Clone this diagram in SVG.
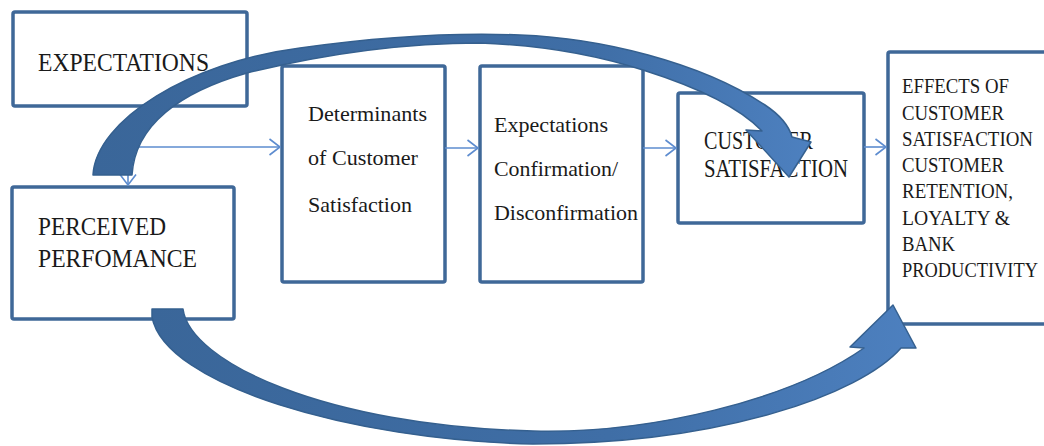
<svg xmlns="http://www.w3.org/2000/svg" width="1044" height="446" viewBox="0 0 1044 446">
  <style>
    .box { fill: #ffffff; stroke: #3f6898; stroke-width: 3.5; }
    .lbl { font-family: "Liberation Serif", "Times New Roman", serif; fill: #1a1a1a; }
    .caps { font-size: 25px; }
    .low { font-size: 22px; }
    .eff { font-size: 21px; }
    .conn { fill: none; stroke: #5d8ccf; stroke-width: 1.6; }
    .big { stroke: #35608f; stroke-width: 1.5; stroke-linejoin: round; }
  </style>
  <defs>
    <marker id="chev" viewBox="0 0 12 18" refX="11" refY="9" markerWidth="12" markerHeight="18" markerUnits="userSpaceOnUse" orient="auto">
      <path d="M0.5,1 L11,9 L0.5,17" fill="none" stroke="#5d8ccf" stroke-width="1.6"/>
    </marker>
    <linearGradient id="gTop" x1="90" y1="0" x2="810" y2="0" gradientUnits="userSpaceOnUse">
      <stop offset="0" stop-color="#3a6699"/>
      <stop offset="0.7" stop-color="#3f6ea6"/>
      <stop offset="1" stop-color="#4d80bf"/>
    </linearGradient>
    <linearGradient id="gBot" x1="150" y1="0" x2="915" y2="0" gradientUnits="userSpaceOnUse">
      <stop offset="0" stop-color="#3a6699"/>
      <stop offset="0.6" stop-color="#3f6ea6"/>
      <stop offset="1" stop-color="#4d80bf"/>
    </linearGradient>
  </defs>

  <!-- boxes -->
  <g id="expectations">
    <rect class="box" x="13" y="12" width="234" height="94" rx="2"/>
    <text class="lbl caps" x="38" y="71" textLength="171" lengthAdjust="spacingAndGlyphs">EXPECTATIONS</text>
  </g>
  <g id="perceived-performance">
    <rect class="box" x="12" y="187" width="222" height="132" rx="2"/>
    <text class="lbl caps" x="38" y="235" textLength="128" lengthAdjust="spacingAndGlyphs">PERCEIVED</text>
    <text class="lbl caps" x="38" y="267" textLength="159" lengthAdjust="spacingAndGlyphs">PERFOMANCE</text>
  </g>
  <g id="determinants">
    <rect class="box" x="282" y="66" width="163" height="216" rx="2"/>
    <text class="lbl low" x="308" y="121" textLength="119" lengthAdjust="spacingAndGlyphs">Determinants</text>
    <text class="lbl low" x="308" y="165" textLength="110" lengthAdjust="spacingAndGlyphs">of Customer</text>
    <text class="lbl low" x="308" y="212" textLength="104" lengthAdjust="spacingAndGlyphs">Satisfaction</text>
  </g>
  <g id="confirmation">
    <rect class="box" x="480" y="66" width="163" height="216" rx="2"/>
    <text class="lbl low" x="494" y="132" textLength="114" lengthAdjust="spacingAndGlyphs">Expectations</text>
    <text class="lbl low" x="494" y="176" textLength="124" lengthAdjust="spacingAndGlyphs">Confirmation/</text>
    <text class="lbl low" x="494" y="220" textLength="144" lengthAdjust="spacingAndGlyphs">Disconfirmation</text>
  </g>
  <g id="customer-satisfaction">
    <rect class="box" x="678" y="93" width="186" height="130" rx="2"/>
    <text class="lbl caps" x="704" y="149" textLength="109" lengthAdjust="spacingAndGlyphs">CUSTOMER</text>
    <text class="lbl caps" x="704" y="177" textLength="144" lengthAdjust="spacingAndGlyphs">SATISFACTION</text>
  </g>
  <g id="effects">
    <rect class="box" x="888" y="52" width="200" height="272" rx="2"/>
    <text class="lbl eff" x="902" y="93" textLength="107" lengthAdjust="spacingAndGlyphs">EFFECTS OF</text>
    <text class="lbl eff" x="902" y="120" textLength="102" lengthAdjust="spacingAndGlyphs">CUSTOMER</text>
    <text class="lbl eff" x="902" y="146" textLength="131" lengthAdjust="spacingAndGlyphs">SATISFACTION</text>
    <text class="lbl eff" x="902" y="172" textLength="102" lengthAdjust="spacingAndGlyphs">CUSTOMER</text>
    <text class="lbl eff" x="902" y="198" textLength="111" lengthAdjust="spacingAndGlyphs">RETENTION,</text>
    <text class="lbl eff" x="902" y="225" textLength="108" lengthAdjust="spacingAndGlyphs">LOYALTY &amp;</text>
    <text class="lbl eff" x="902" y="251" textLength="53" lengthAdjust="spacingAndGlyphs">BANK</text>
    <text class="lbl eff" x="902" y="277" textLength="136" lengthAdjust="spacingAndGlyphs">PRODUCTIVITY</text>
  </g>

  <!-- connectors -->
  <g id="connectors">
    <path class="conn" d="M126,147 H280" marker-end="url(#chev)"/>
    <path class="conn" d="M128,147 V185" marker-end="url(#chev)"/>
    <path class="conn" d="M445,148 H478" marker-end="url(#chev)"/>
    <path class="conn" d="M643,148 H676" marker-end="url(#chev)"/>
    <path class="conn" d="M864,147 H886" marker-end="url(#chev)"/>

    <!-- curved block arrow over the top, into customer satisfaction -->
    <path id="arc-top" class="big" fill="url(#gTop)"
      d="M93,175 C96,120 190,62 300,48 C400,34 470,33 520,35 C600,38 700,62 765,105 C780,115 789,126 792,137 L811,142 L789,177 L746,130 L762,131 C740,108 700,88 643,70 C590,53 540,45 480,43 C400,43 320,55 247,73 C180,92 135,125 132,175 Z"/>

    <!-- curved block arrow underneath, into the effects box -->
    <path id="arc-bottom" class="big" fill="url(#gBot)"
      d="M152,317 L152,309 L183,309 C190,362 325,426 533,431 C650,434 790,400 864,348 L850,347 L893,305 L916,348 L901,348 C860,395 720,444 533,444 C350,440 165,385 152,317 Z"/>
  </g>
</svg>
